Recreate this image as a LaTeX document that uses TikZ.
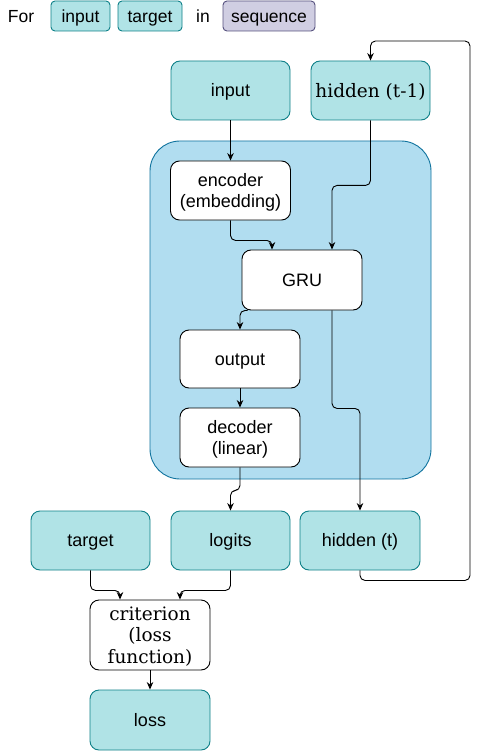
\documentclass[tikz,border=0pt]{standalone}
\usepackage{fontspec}
\setmainfont{Liberation Sans}
\newfontfamily\serifx{DejaVu Serif}
\usetikzlibrary{arrows.meta,calc}
\definecolor{tealfill}{HTML}{B0E3E6}
\definecolor{tealline}{HTML}{0E8088}
\definecolor{bluefill}{HTML}{B1DDF0}
\definecolor{blueline}{HTML}{10739E}
\definecolor{lavfill}{HTML}{D0CEE2}
\definecolor{lavline}{HTML}{56517E}
\tikzset{
  base/.style={draw, rounded corners=9pt, inner sep=0pt, align=center, line width=0.9pt,
    font=\fontsize{18}{21}\selectfont, text=black, text height=12.9pt, text depth=0pt},
  twolines/.style={text height=33.9pt},
  tealbox/.style={base, fill=tealfill, draw=tealline, minimum width=119pt, minimum height=59pt},
  whitebox/.style={base, fill=white, draw=black, minimum width=120pt, minimum height=59pt},
  chip/.style={draw, rounded corners=4pt, inner sep=0pt, line width=0.9pt, minimum height=30pt,
    font=\fontsize{17.5}{20}\selectfont, fill=tealfill, draw=tealline, text height=12.5pt, text depth=0pt},
  lavchip/.style={chip, fill=lavfill, draw=lavline},
  plain/.style={inner sep=0pt, font=\fontsize{17.5}{20}\selectfont, text height=12.5pt, text depth=0pt},
  sermode/.style={font=\serifx\fontsize{18.5}{21.5}\selectfont, text height=13.5pt},
  conn/.style={draw=black, line width=0.9pt, rounded corners=5pt, -{Stealth[length=7.5pt,width=6.5pt]}}
}
\begin{document}
\begin{tikzpicture}[x=1pt,y=-1pt]
\useasboundingbox[fill=white] (0,0) rectangle (479,751);
% top row
\node[plain] (for) at (21,16) {For};
\node[chip, minimum width=59pt] (tin) at (80.5,16) {input};
\node[chip, minimum width=64pt] (ttg) at (150,16) {target};
\node[plain] (inw) at (203,16) {in};
\node[lavchip, minimum width=92pt] (seq) at (269,16) {sequence};
% container
\draw[fill=bluefill, draw=blueline, line width=0.9pt, rounded corners=30pt] (150,141) rectangle (431,479);
% nodes
\node[tealbox] (in2) at (230.5,90.5) {input};
\node[tealbox, sermode] (h1) at (370.5,90.5) {hidden (t-1)};
\node[whitebox, twolines] (enc) at (230.5,190.5) {encoder\\(embedding)};
\node[whitebox, minimum height=60pt] (gru) at (302,280) {GRU};
\node[whitebox, minimum height=58pt] (out) at (240,359) {output};
\node[whitebox, twolines] (dec) at (240,437.5) {decoder\\(linear)};
\node[tealbox] (tgt) at (90.5,540.5) {target};
\node[tealbox] (log) at (230.5,540.5) {logits};
\node[tealbox, minimum width=120pt] (ht) at (360,540.5) {hidden (t)};
\node[whitebox, sermode, minimum height=70pt, text height=56.5pt] (crit) at (150,635) {criterion\\(loss\\function)};
\node[tealbox, minimum width=120pt, minimum height=60pt] (loss) at (150,720) {loss};
\coordinate (loopc) at (470,41);
% connectors
\draw[conn] (in2.south) -- (enc.north);
\draw[conn] (h1.south) -- ++(0,65) -| ([xshift=30pt]gru.north);
\draw[conn] (enc.south) -- ++(0,20) -| ([xshift=-30pt]gru.north);
\draw[conn] ([xshift=6pt]gru.south west) -| (out.north);
\draw[conn] (out.south) -- (dec.north);
\draw[conn] ([xshift=30pt]gru.south) -- ++(0,98) -| (ht.north);
\draw[conn] (dec.south) -- ++(0,23) -| (log.north);
\draw[conn] (tgt.south) -- ++(0,20) -| ([xshift=-30pt]crit.north);
\draw[conn] (log.south) -- ++(0,20) -| ([xshift=30pt]crit.north);
\draw[conn] (ht.south) -- ++(0,10) -| (loopc) -| (h1.north);
\draw[conn] (crit.south) -- (loss.north);
\end{tikzpicture}
\end{document}
